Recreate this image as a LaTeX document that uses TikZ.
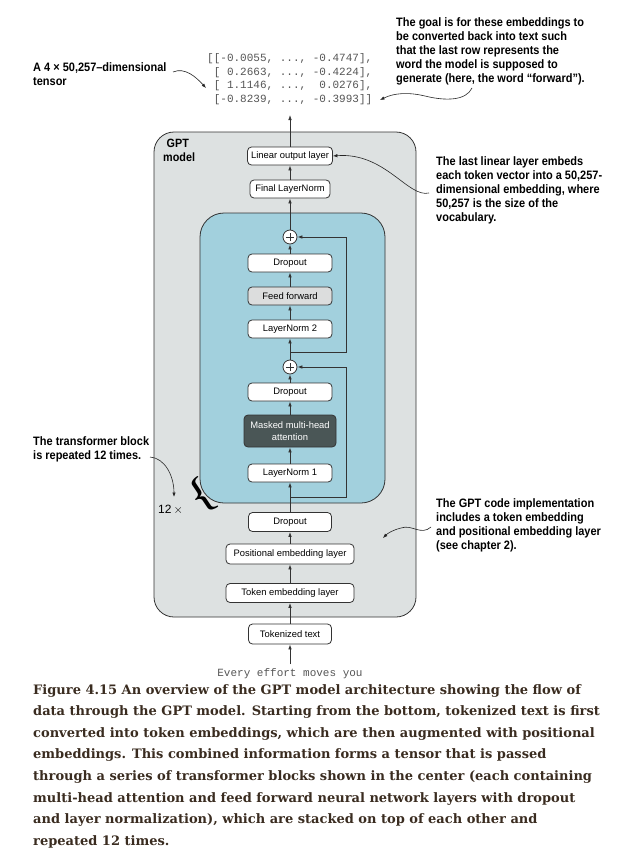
\documentclass[tikz,border=0pt]{standalone}
\usepackage{fontspec}
\newfontfamily\boxfont{Liberation Sans}
\newfontfamily\annfont[FakeStretch=0.9]{Liberation Sans}
\newfontfamily\monofont{Liberation Mono}
\newfontfamily\capfont{DejaVu Serif}
\usetikzlibrary{arrows.meta}
\definecolor{gptgray}{HTML}{DDE1E1}
\definecolor{tblue}{HTML}{A2D0DD}
\definecolor{ffgray}{HTML}{DCDDDD}
\definecolor{mhadark}{HTML}{4A5656}
\definecolor{edge}{HTML}{333333}
\definecolor{captxt}{HTML}{3A2C20}
\definecolor{monotxt}{HTML}{555555}
\tikzset{
  lbox/.style={draw=edge, line width=0.8pt, fill=white, rounded corners=4pt,
    minimum height=18pt, inner sep=1pt, font=\boxfont\fontsize{9.4}{11}\selectfont},
  plusnode/.style={circle, draw=edge, line width=0.8pt, fill=white, minimum size=14pt, inner sep=0pt,
    path picture={\draw[line width=0.9pt] ([xshift=-4.2pt]path picture bounding box.center) -- ([xshift=4.2pt]path picture bounding box.center);
                  \draw[line width=0.9pt] ([yshift=-4.2pt]path picture bounding box.center) -- ([yshift=4.2pt]path picture bounding box.center);}},
  container/.style={draw=edge, line width=0.8pt, inner sep=0pt},
  arr/.style={draw=edge, line width=0.8pt, -{Latex[length=5pt,width=3.6pt]}},
  annarr/.style={draw=black!85, line width=0.6pt, -{Latex[length=4.5pt,width=3.4pt]}},
  ann/.style={align=left, inner sep=0pt, font=\annfont\bfseries\fontsize{12.2}{14}\selectfont},
  mono/.style={inner sep=0pt, text=monotxt, font=\monofont\fontsize{11}{13.9}\selectfont},
}
\begin{document}
\begin{tikzpicture}[x=1pt,y=-1pt]
\useasboundingbox[fill=white] (0,0) rectangle (617,862);
% containers
\node[container, fill=gptgray, rounded corners=20pt, minimum width=262pt, minimum height=485pt] (gpt) at (285,374.5) {};
\node[container, fill=tblue, rounded corners=24pt, minimum width=185pt, minimum height=290pt] (blk) at (292.5,358) {};
\node[ann, anchor=north west, font=\annfont\bfseries\fontsize{12}{13.5}\selectfont] (gptl) at (163,139) {\hspace*{3.5pt}GPT\\model};
% layer boxes
\node[lbox, minimum width=85pt] (lin) at (290,156) {Linear output layer};
\node[lbox, minimum width=80pt] (fln) at (290,189) {Final LayerNorm};
\node[plusnode] (p2) at (290,237) {};
\node[lbox, minimum width=84pt] (dr2) at (290,263) {Dropout};
\node[lbox, fill=ffgray, minimum width=84pt] (ff) at (290,296) {Feed forward};
\node[lbox, minimum width=84pt] (ln2) at (290,329) {LayerNorm 2};
\node[plusnode] (p1) at (290,367) {};
\node[lbox, minimum width=84pt] (dr1) at (290,392) {Dropout};
\node[lbox, fill=mhadark, text=white, minimum width=92pt, minimum height=32pt, align=center,
      font=\boxfont\fontsize{9.4}{11.5}\selectfont] (mha) at (290,431) {Masked multi-head\\attention};
\node[lbox, minimum width=84pt] (ln1) at (290,473) {LayerNorm 1};
\node[lbox, minimum width=83pt, minimum height=19pt] (dr0) at (290,522) {Dropout};
\node[lbox, minimum width=128pt, minimum height=20pt] (pos) at (290,554) {Positional embedding layer};
\node[lbox, minimum width=128pt, minimum height=19pt] (tok) at (290,593) {Token embedding layer};
\node[lbox, minimum width=83pt, minimum height=20pt] (tkt) at (290,634) {Tokenized text};
\node[mono] (inp) at (290,674) {Every effort moves you};
% tensor
\node[mono, align=left, anchor=north west] (mat) at (207,53) {[[-0.0055, ..., -0.4747],\\
\ [ 0.2663, ..., -0.4224],\\
\ [ 1.1146, ...,\ \ 0.0276],\\
\ [-0.8239, ..., -0.3993]]};
% main flow
\coordinate (inpt) at (290,664);
\coordinate (mtip) at (290,115);
\draw[arr] (inpt) -- (tkt.south);
\draw[arr] (tkt) -- (tok);
\draw[arr] (tok) -- (pos);
\draw[arr] (pos) -- (dr0);
\draw[arr] (dr0) -- (ln1);
\draw[arr] (ln1) -- (mha);
\draw[arr] (mha) -- (dr1);
\draw[arr] (dr1) -- (p1);
\draw[arr] (p1) -- (ln2);
\draw[arr] (ln2) -- (ff);
\draw[arr] (ff) -- (dr2);
\draw[arr] (dr2) -- (p2);
\draw[arr] (p2) -- (fln);
\draw[arr] (fln) -- (lin);
\draw[arr] (lin.north) -- (mtip);
% residuals
\coordinate (r1) at (290,497);
\coordinate (r2) at (290,352);
\draw[arr] (r1) -| (346,367) -- (p1.east);
\draw[arr] (r2) -| (346,237) -- (p2.east);
% 12x brace
\node[anchor=west, inner sep=0pt, font=\boxfont\fontsize{12}{13}\selectfont] (twelve) at (158,510) {12\,$\times$};
\node[inner sep=0pt, rotate=34, font=\bfseries\fontsize{37}{37}\selectfont] (brace) at (202,496) {\{};
% annotations
\node[ann, anchor=north west] (goal) at (396,17) {The goal is for these embeddings to\\be converted back into text such\\that the last row represents the\\word the model is supposed to\\generate (here, the word “forward”).};
\node[ann, anchor=north west] (a4) at (33,62) {A 4 × 50,257–dimensional\\tensor};
\node[ann, anchor=north west] (last) at (436,156) {The last linear layer embeds\\each token vector into a 50,257-\\dimensional embedding, where\\50,257 is the size of the\\vocabulary.};
\node[ann, anchor=north west] (tb) at (33,436) {The transformer block\\is repeated 12 times.};
\node[ann, anchor=north west] (code) at (436,498) {The GPT code implementation\\includes a token embedding\\and positional embedding layer\\(see chapter 2).};
% annotation curves
\coordinate (a4s) at (173,72);
\coordinate (m3) at (206,88);
\draw[annarr] (a4s) .. controls (185,67) and (196,77) .. (m3);
\coordinate (goals) at (472,88);
\coordinate (m4) at (380,100);
\draw[annarr] (goals) .. controls (466,101) and (445,101) .. (425,96) .. controls (408,92) and (394,93) .. (m4);
\coordinate (lasts) at (429,193);
\draw[annarr] (lasts) .. controls (408,198) and (385,152) .. (lin.east);
\coordinate (tbs) at (150,457);
\coordinate (tbe) at (174,497);
\draw[annarr] (tbs) .. controls (165,458) and (174,476) .. (tbe);
\coordinate (codes) at (431,527);
\coordinate (codee) at (383,538);
\draw[annarr] (codes) .. controls (421,536) and (412,524) .. (401,528) .. controls (393,530) and (388,533) .. (codee);
% caption
\node[anchor=north west, align=left, inner sep=0pt, text=captxt, font=\capfont\bfseries\fontsize{13}{21.6}\selectfont] (cap) at (33,684) {Figure 4.15 An overview of the GPT model architecture showing the flow of\\
data through the GPT model. Starting from the bottom, tokenized text is first\\
converted into token embeddings, which are then augmented with positional\\
embeddings. This combined information forms a tensor that is passed\\
through a series of transformer blocks shown in the center (each containing\\
multi-head attention and feed forward neural network layers with dropout\\
and layer normalization), which are stacked on top of each other and\\
repeated 12 times.};
\end{tikzpicture}
\end{document}
